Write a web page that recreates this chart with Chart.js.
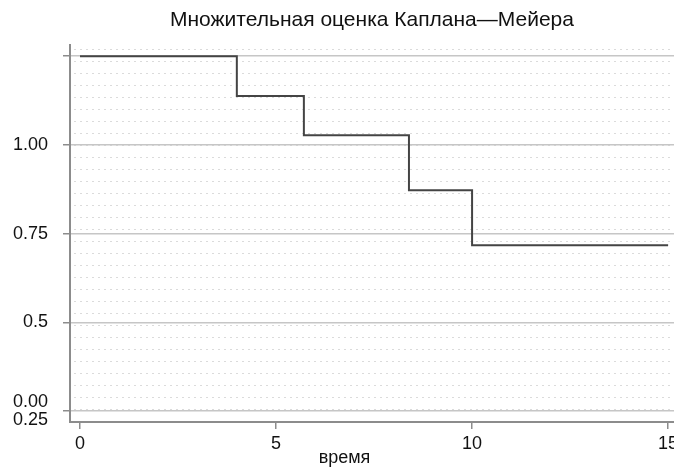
<!DOCTYPE html>
<html>
<head>
<meta charset="utf-8">
<script src="https://cdn.jsdelivr.net/npm/chart.js@4/dist/chart.umd.min.js"></script>
<style>
  html, body { margin: 0; padding: 0; background: #fff; }
</style>
</head>
<body>
<canvas id="km-plot" width="674" height="469"></canvas>
<script>
// Kaplan-Meier estimate
const stepTimes = [0, 4.0, 5.71, 8.39, 10.0, 15.0];
const survival  = [1.0, 0.888, 0.777, 0.622, 0.467, 0.467];

const xTickValues = [0, 5, 10, 15];
const yTickValues = [0, 0.25, 0.5, 0.75, 1.0];
const yTickLabels = [['0.00', '0.25'], '0.5', '0.75', '1.00', ''];

const chartTitle = 'Множительная оценка Каплана—Мейера';
const xTitle = 'время';

const fontFamily = '"Liberation Sans", Arial, Helvetica, sans-serif';
const axisGray = '#8c8c8c';

// faint scanned halftone rows behind the plot
const halftone = {
    id: 'halftone',
    beforeDraw(chart) {
        const { ctx, chartArea: { left, top, right, bottom } } = chart;
        ctx.save();
        ctx.strokeStyle = 'rgba(0,0,0,0.14)';
        ctx.lineWidth = 1;
        ctx.setLineDash([2, 4]);
        for (let y = bottom - 13; y > top; y -= 12) {
            const yy = Math.round(y) + 0.5;
            ctx.beginPath();
            ctx.moveTo(left + 4, yy);
            ctx.lineTo(right, yy);
            ctx.stroke();
        }
        ctx.restore();
    }
};

const points = stepTimes.map((t, i) => ({ x: t, y: survival[i] }));

const ctx = document.getElementById('km-plot').getContext('2d');

new Chart(ctx, {
    type: 'line',
    plugins: [halftone],
    data: {
        datasets: [{
            data: points,
            stepped: 'before',
            borderColor: '#444444',
            borderWidth: 2,
            pointRadius: 0,
            fill: false
        }]
    },
    options: {
        responsive: false,
        animation: false,
        layout: { padding: 0 },
        plugins: {
            legend: { display: false },
            tooltip: { enabled: false },
            title: {
                display: true,
                text: chartTitle,
                fullSize: false,
                color: '#111111',
                font: { family: fontFamily, size: 21, weight: 'normal' },
                padding: { top: 8, bottom: 12 }
            }
        },
        scales: {
            x: {
                type: 'linear',
                min: -0.255,
                max: 15.15,
                afterBuildTicks: axis => { axis.ticks = xTickValues.map(v => ({ value: v })); },
                afterFit: scale => {
                    scale.height = 47;
                    scale.paddingLeft = 0;
                    scale.paddingRight = 0;
                },
                border: { color: axisGray, width: 2 },
                grid: {
                    drawOnChartArea: false,
                    drawTicks: true,
                    tickLength: 7,
                    tickColor: axisGray,
                    lineWidth: 1.5
                },
                ticks: {
                    color: '#111111',
                    padding: 4,
                    maxRotation: 0,
                    font: { family: fontFamily, size: 18 },
                    callback: value => String(value)
                },
                title: {
                    display: true,
                    text: xTitle + '\u00a0'.repeat(11),
                    color: '#111111',
                    font: { family: fontFamily, size: 18 },
                    padding: 0
                }
            },
            y: {
                type: 'linear',
                min: -0.031,
                max: 1.031,
                afterBuildTicks: axis => { axis.ticks = yTickValues.map(v => ({ value: v })); },
                afterFit: scale => { scale.width = 70; },
                border: { color: axisGray, width: 2 },
                grid: {
                    color: '#c6c6c6',
                    lineWidth: 1.5,
                    drawTicks: true,
                    tickLength: 7,
                    tickColor: axisGray
                },
                ticks: {
                    color: '#111111',
                    padding: 15,
                    font: { family: fontFamily, size: 18, lineHeight: 1.0 },
                    callback: (value, index) => yTickLabels[index]
                }
            }
        }
    }
});
</script>
</body>
</html>
